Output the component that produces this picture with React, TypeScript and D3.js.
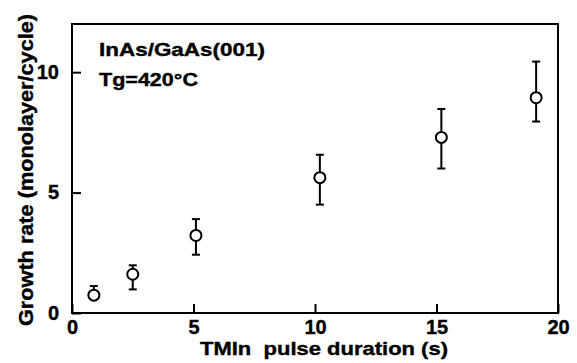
import { useEffect, useRef } from 'react';
import * as d3 from 'd3';

// pulse duration (s)
const durations = [0.9, 2.5, 5.1, 10.2, 15.2, 19.1];
// growth rate (monolayer/cycle)
const rates = [0.74, 1.61, 3.22, 5.62, 7.29, 8.94];
const errLow = [0.62, 0.98, 2.42, 4.5, 6.0, 7.95];
const errHigh = [1.12, 1.98, 3.9, 6.57, 8.47, 10.44];

const xTicks = [0, 5, 10, 15, 20];
const yTicks = [0, 5, 10];

function App() {
  const svgRef = useRef<SVGSVGElement>(null);

  useEffect(() => {
    if (!svgRef.current) return;
    const svg = d3.select(svgRef.current);
    svg.selectAll('*').remove();

    const margin = { top: 24, right: 19, bottom: 50, left: 72 };
    const width = 577 - margin.left - margin.right;
    const height = 363 - margin.top - margin.bottom;
    const font = 'Liberation Sans, Arial, Helvetica, sans-serif';

    const x = d3.scaleLinear().domain([0, 20]).range([0, width]);
    const y = d3.scaleLinear().domain([0, 12]).range([height, 0]);

    const g = svg.append('g').attr('transform', `translate(${margin.left},${margin.top})`);

    // frame
    g.append('rect')
      .attr('width', width)
      .attr('height', height)
      .attr('fill', 'none')
      .attr('stroke', '#000')
      .attr('stroke-width', 2);

    // ticks pointing inward
    const xAxis = d3.axisBottom(x).tickValues(xTicks).tickSizeInner(-9).tickSizeOuter(0).tickPadding(7);
    const gx = g.append('g').attr('transform', `translate(0,${height})`).call(xAxis);
    gx.select('.domain').remove();
    gx.selectAll('line').attr('stroke', '#000').attr('stroke-width', 2);
    gx.selectAll('text')
      .attr('font-family', font)
      .attr('font-weight', 'bold')
      .attr('font-size', '20px')
      .attr('fill', '#000')
      .attr('stroke', '#000')
      .attr('stroke-width', 0.4);

    const yAxis = d3.axisLeft(y).tickValues(yTicks).tickSizeInner(-9).tickSizeOuter(0).tickPadding(13);
    const gy = g.append('g').call(yAxis);
    gy.select('.domain').remove();
    gy.selectAll('line').attr('stroke', '#000').attr('stroke-width', 2);
    gy.selectAll('text')
      .attr('font-family', font)
      .attr('font-weight', 'bold')
      .attr('font-size', '20px')
      .attr('fill', '#000')
      .attr('stroke', '#000')
      .attr('stroke-width', 0.4);

    // error bars
    const cap = 4;
    durations.forEach((d, i) => {
      const cx = x(d);
      g.append('line')
        .attr('x1', cx).attr('x2', cx)
        .attr('y1', y(errLow[i])).attr('y2', y(errHigh[i]))
        .attr('stroke', '#000').attr('stroke-width', 2);
      [errLow[i], errHigh[i]].forEach((v) => {
        g.append('line')
          .attr('x1', cx - cap).attr('x2', cx + cap)
          .attr('y1', y(v)).attr('y2', y(v))
          .attr('stroke', '#000').attr('stroke-width', 2);
      });
    });

    // points
    g.selectAll('circle.pt')
      .data(durations)
      .enter()
      .append('circle')
      .attr('class', 'pt')
      .attr('cx', (d) => x(d))
      .attr('cy', (_, i) => y(rates[i]))
      .attr('r', 5.5)
      .attr('fill', '#fff')
      .attr('stroke', '#000')
      .attr('stroke-width', 2);

    const label = (sel: any) =>
      sel
        .attr('font-family', font)
        .attr('font-weight', 'bold')
        .attr('fill', '#000')
        .attr('stroke', '#000')
        .attr('stroke-width', 0.4)
        .attr('lengthAdjust', 'spacingAndGlyphs');

    // annotations
    g.append('text')
      .call(label)
      .attr('x', 27)
      .attr('y', 32)
      .attr('font-size', '19px')
      .attr('textLength', 166)
      .text('InAs/GaAs(001)');
    g.append('text')
      .call(label)
      .attr('x', 27)
      .attr('y', 62)
      .attr('font-size', '19px')
      .attr('textLength', 99)
      .text('Tg=420°C');

    // axis titles
    svg.append('text')
      .call(label)
      .attr('x', 324)
      .attr('y', 355)
      .attr('text-anchor', 'middle')
      .attr('font-size', '19px')
      .attr('textLength', 248)
      .style('white-space', 'pre')
      .text('TMIn  pulse duration (s)');

    svg.append('text')
      .call(label)
      .attr('transform', `translate(33,170) rotate(-90)`)
      .attr('text-anchor', 'middle')
      .attr('font-size', '20px')
      .attr('textLength', 312)
      .text('Growth rate (monolayer/cycle)');
  }, []);

  return (
    <svg
      ref={svgRef}
      width={577}
      height={363}
      style={{ position: 'absolute', left: 0, top: 0, background: '#fff' }}
    />
  );
}

export default App;
